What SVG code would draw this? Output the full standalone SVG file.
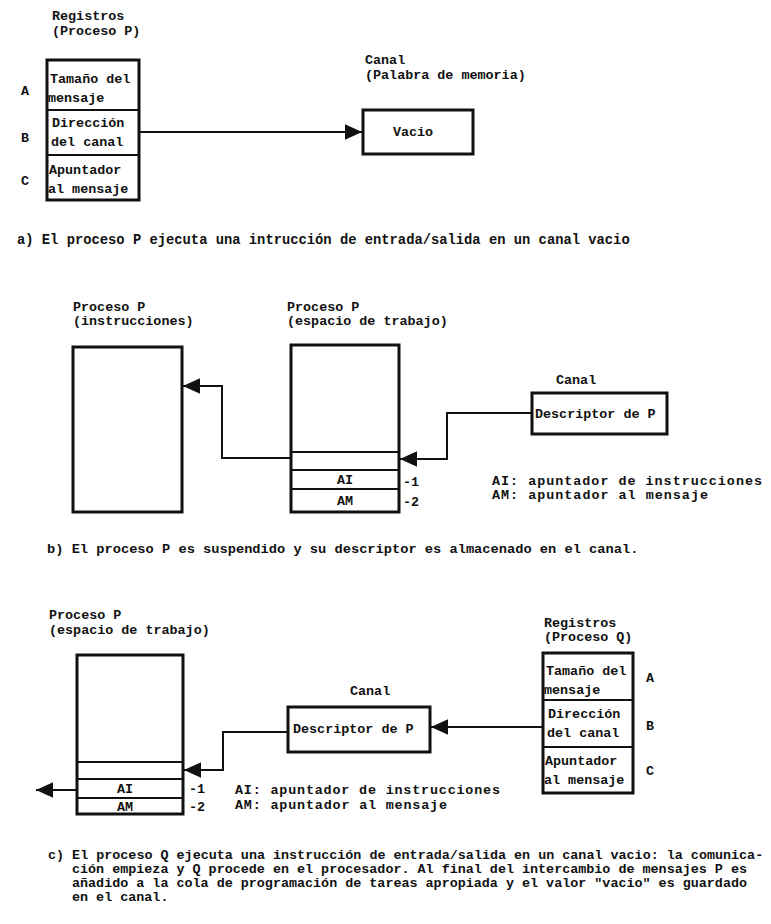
<svg xmlns="http://www.w3.org/2000/svg" width="771" height="924" viewBox="0 0 771 924">
<defs>
<style>
text{font-family:"Liberation Mono","DejaVu Sans Mono",monospace;font-weight:bold;font-size:13.4px;fill:#111}
.box{fill:#fff;stroke:#111;stroke-width:3}
.div{stroke:#111;stroke-width:2}
.ln{fill:none;stroke:#111;stroke-width:2}
.cap{font-size:13.8px}
.mid{text-anchor:middle}
</style>
<marker id="ah" viewBox="0 0 10 10" refX="10" refY="5" markerWidth="17" markerHeight="17" markerUnits="userSpaceOnUse" orient="auto">
<path d="M0,0.5 L10,5 L0,9.5 z" fill="#111"/>
</marker>
</defs>
<rect width="771" height="924" fill="#fff"/>

<!-- a) -->
<g id="regP">
<text x="52" y="20">Registros</text>
<text x="52" y="35">(Proceso P)</text>
<rect class="box" x="47" y="60" width="92" height="140"/>
<line class="div" x1="47" y1="110" x2="139" y2="110"/>
<line class="div" x1="47" y1="155" x2="139" y2="155"/>
<text x="50" y="83">Tamaño del</text>
<text x="48" y="102">mensaje</text>
<text x="52" y="127">Dirección</text>
<text x="51" y="146">del canal</text>
<text x="49" y="174">Apuntador</text>
<text x="48" y="193">al mensaje</text>
<text x="21" y="95">A</text>
<text x="21" y="142">B</text>
<text x="21" y="185">C</text>
</g>
<g id="canalA">
<text x="365" y="64">Canal</text>
<text x="365" y="79">(Palabra de memoria)</text>
<rect class="box" x="363" y="110" width="110" height="44"/>
<text class="mid" x="413" y="136">Vacio</text>
</g>

<text class="cap" x="17" y="244">a) El proceso P ejecuta una intrucción de entrada/salida en un canal vacio</text>

<!-- b) -->
<g id="instrP">
<text x="73" y="311">Proceso P</text>
<text x="73" y="325">(instrucciones)</text>
<rect class="box" x="73" y="347" width="109" height="165"/>
</g>
<g id="wsP">
<text x="287" y="311">Proceso P</text>
<text x="287" y="325">(espacio de trabajo)</text>
<rect class="box" x="291" y="345" width="108" height="167"/>
<line class="div" x1="291" y1="452" x2="399" y2="452"/>
<line class="div" x1="291" y1="470" x2="399" y2="470"/>
<line class="div" x1="291" y1="489" x2="399" y2="489"/>
<text class="mid" x="345" y="484">AI</text>
<text class="mid" x="345" y="505">AM</text>
<text x="403" y="486">-1</text>
<text x="403" y="506">-2</text>
</g>
<g id="canalB">
<text x="556" y="384">Canal</text>
<rect class="box" x="532" y="393" width="135" height="41"/>
<text x="535" y="418">Descriptor de P</text>
</g>
<g id="legendB">
<text x="492" y="485" textLength="270" lengthAdjust="spacing">AI: apuntador de instrucciones</text>
<text x="492" y="499" textLength="216" lengthAdjust="spacing">AM: apuntador al mensaje</text>
</g>

<text class="cap" x="47" y="553" style="font-size:13.7px">b) El proceso P es suspendido y su descriptor es almacenado en el canal.</text>

<!-- c) -->
<g id="wsPc">
<text x="49" y="619">Proceso P</text>
<text x="49" y="634">(espacio de trabajo)</text>
<rect class="box" x="77" y="655" width="106" height="159"/>
<line class="div" x1="77" y1="762" x2="183" y2="762"/>
<line class="div" x1="77" y1="779" x2="183" y2="779"/>
<line class="div" x1="77" y1="798" x2="183" y2="798"/>
<text class="mid" x="125" y="793">AI</text>
<text class="mid" x="125" y="811">AM</text>
<text x="189" y="793">-1</text>
<text x="189" y="811">-2</text>
</g>
<g id="canalC">
<text x="350" y="695">Canal</text>
<rect class="box" x="288" y="707" width="142" height="45"/>
<text x="293" y="733">Descriptor de P</text>
</g>
<g id="legendC">
<text x="235" y="794" textLength="265" lengthAdjust="spacing">AI: apuntador de instrucciones</text>
<text x="235" y="809" textLength="212" lengthAdjust="spacing">AM: apuntador al mensaje</text>
</g>
<g id="regQ">
<text x="544" y="627">Registros</text>
<text x="544" y="641">(Proceso Q)</text>
<rect class="box" x="543" y="653" width="90" height="140"/>
<line class="div" x1="543" y1="700" x2="633" y2="700"/>
<line class="div" x1="543" y1="747" x2="633" y2="747"/>
<text x="546" y="675">Tamaño del</text>
<text x="544" y="694">mensaje</text>
<text x="548" y="718">Dirección</text>
<text x="547" y="737">del canal</text>
<text x="545" y="765">Apuntador</text>
<text x="544" y="784">al mensaje</text>
<text x="646" y="682">A</text>
<text x="646" y="730">B</text>
<text x="646" y="775">C</text>
</g>

<g id="connectors">
<line class="ln" x1="139" y1="132" x2="362" y2="132" marker-end="url(#ah)"/>
<polyline class="ln" points="291,458 222,458 222,386 183,386" marker-end="url(#ah)"/>
<polyline class="ln" points="532,413 447,413 447,459 400,459" marker-end="url(#ah)"/>
<line class="ln" x1="77" y1="790" x2="36" y2="790" marker-end="url(#ah)"/>
<polyline class="ln" points="288,732 223,732 223,770 184,770" marker-end="url(#ah)"/>
<line class="ln" x1="543" y1="727" x2="431" y2="727" marker-end="url(#ah)"/>
</g>

<g id="captionC">
<text x="48" y="859">c) El proceso Q ejecuta una instrucción de entrada/salida en un canal vacio: la comunica-</text>
<text x="72" y="873">ción empieza y Q procede en el procesador. Al final del intercambio de mensajes P es</text>
<text x="72" y="887">añadido a la cola de programación de tareas apropiada y el valor "vacio" es guardado</text>
<text x="72" y="901">en el canal.</text>
</g>
</svg>
